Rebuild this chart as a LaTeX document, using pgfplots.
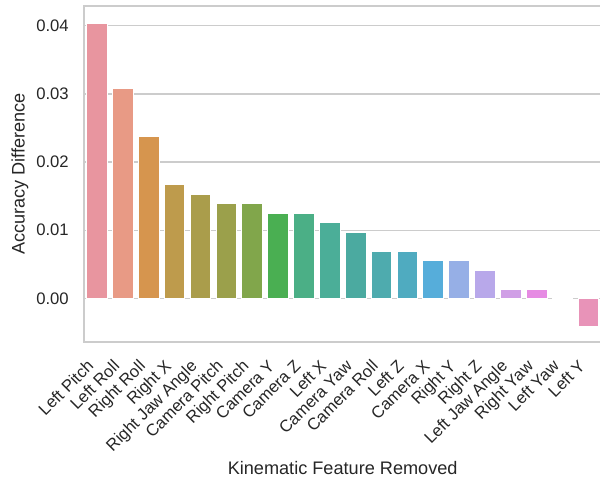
\documentclass[border=0pt]{standalone}
\usepackage{fontspec}
\setmainfont{Liberation Sans}
\usepackage{pgfplots}
\pgfplotsset{compat=1.18}

\definecolor{gridgray}{HTML}{CCCCCC}
\definecolor{txt}{HTML}{262626}
\definecolor{c01}{HTML}{E8959F}
\definecolor{c02}{HTML}{E89A85}
\definecolor{c03}{HTML}{D6954E}
\definecolor{c04}{HTML}{BE9B4C}
\definecolor{c05}{HTML}{AA9D4B}
\definecolor{c06}{HTML}{9BA04B}
\definecolor{c07}{HTML}{81A64B}
\definecolor{c08}{HTML}{4AAF52}
\definecolor{c09}{HTML}{4BAF86}
\definecolor{c10}{HTML}{4BAE98}
\definecolor{c11}{HTML}{4BAAA0}
\definecolor{c12}{HTML}{4EABAE}
\definecolor{c13}{HTML}{4FABC0}
\definecolor{c14}{HTML}{56ADDA}
\definecolor{c15}{HTML}{96AFE6}
\definecolor{c16}{HTML}{B8A8EA}
\definecolor{c17}{HTML}{D09FE6}
\definecolor{c18}{HTML}{E68BE3}
\definecolor{c19}{HTML}{E88CCC}
\definecolor{c20}{HTML}{E893B8}

\begin{document}
\begin{tikzpicture}
\useasboundingbox (-63pt,-102.75pt) rectangle (387pt,256.5pt);
\begin{axis}[
  at={(0,0)}, anchor=south west,
  width=388pt, height=252pt, scale only axis,
  xmin=-0.5, xmax=19.5,
  ymin=-0.0064, ymax=0.0429,
  ybar, bar width=0.8, bar shift=0pt,
  xtick={0,...,19},
  xticklabels={Left Pitch, Left Roll, Right Roll, Right X, Right Jaw Angle,
    Camera Pitch, Right Pitch, Camera Y, Camera Z, Left X, Camera Yaw,
    Camera Roll, Left Z, Camera X, Right Y, Right Z, Left Jaw Angle,
    Right Yaw, Left Yaw, Left Y},
  ytick={0,0.01,0.02,0.03,0.04},
  scaled y ticks=false,
  /pgf/number format/assume math mode=true,
  yticklabel style={/pgf/number format/fixed, /pgf/number format/fixed zerofill,
    /pgf/number format/precision=2},
  ymajorgrids,
  major grid style={color=gridgray, line width=1pt},
  axis line style={color=gridgray, line width=1.3pt},
  major tick length=0pt,
  tick style={draw=none},
  every tick label/.append style={font=\fontsize{12.5}{15}\selectfont, text=txt},
  yticklabel style={anchor=east, inner sep=0pt, xshift=-11.25pt},
  xticklabel style={xshift=-8.5pt, yshift=-12pt, rotate=45, anchor=north east,
    inner sep=0pt, text height=9.5pt, text depth=2.5pt},
  every axis y label/.style={at={(axis description cs:-0.124,0.5)}, rotate=90,
    anchor=center, font=\fontsize{13.6}{16}\selectfont, text=txt},
  every axis x label/.style={at={(axis description cs:0.5,0)}, anchor=base,
    yshift=-99pt, font=\fontsize{13.6}{16}\selectfont, text=txt},
  ylabel={Accuracy Difference},
  xlabel={Kinematic Feature Removed},
  every axis plot/.append style={draw=white, line width=0.6pt},
]
\addplot[fill=c01] coordinates {(0,0.04028)};
\addplot[fill=c02] coordinates {(1,0.03083)};
\addplot[fill=c03] coordinates {(2,0.02375)};
\addplot[fill=c04] coordinates {(3,0.01667)};
\addplot[fill=c05] coordinates {(4,0.01528)};
\addplot[fill=c06] coordinates {(5,0.01389)};
\addplot[fill=c07] coordinates {(6,0.01389)};
\addplot[fill=c08] coordinates {(7,0.01250)};
\addplot[fill=c09] coordinates {(8,0.01250)};
\addplot[fill=c10] coordinates {(9,0.01111)};
\addplot[fill=c11] coordinates {(10,0.00972)};
\addplot[fill=c12] coordinates {(11,0.00694)};
\addplot[fill=c13] coordinates {(12,0.00694)};
\addplot[fill=c14] coordinates {(13,0.00556)};
\addplot[fill=c15] coordinates {(14,0.00556)};
\addplot[fill=c16] coordinates {(15,0.00417)};
\addplot[fill=c17] coordinates {(16,0.00139)};
\addplot[fill=c18] coordinates {(17,0.00139)};
\addplot[fill=c19] coordinates {(18,0)};
\addplot[fill=c20] coordinates {(19,-0.00417)};
\end{axis}
\end{tikzpicture}
\end{document}
